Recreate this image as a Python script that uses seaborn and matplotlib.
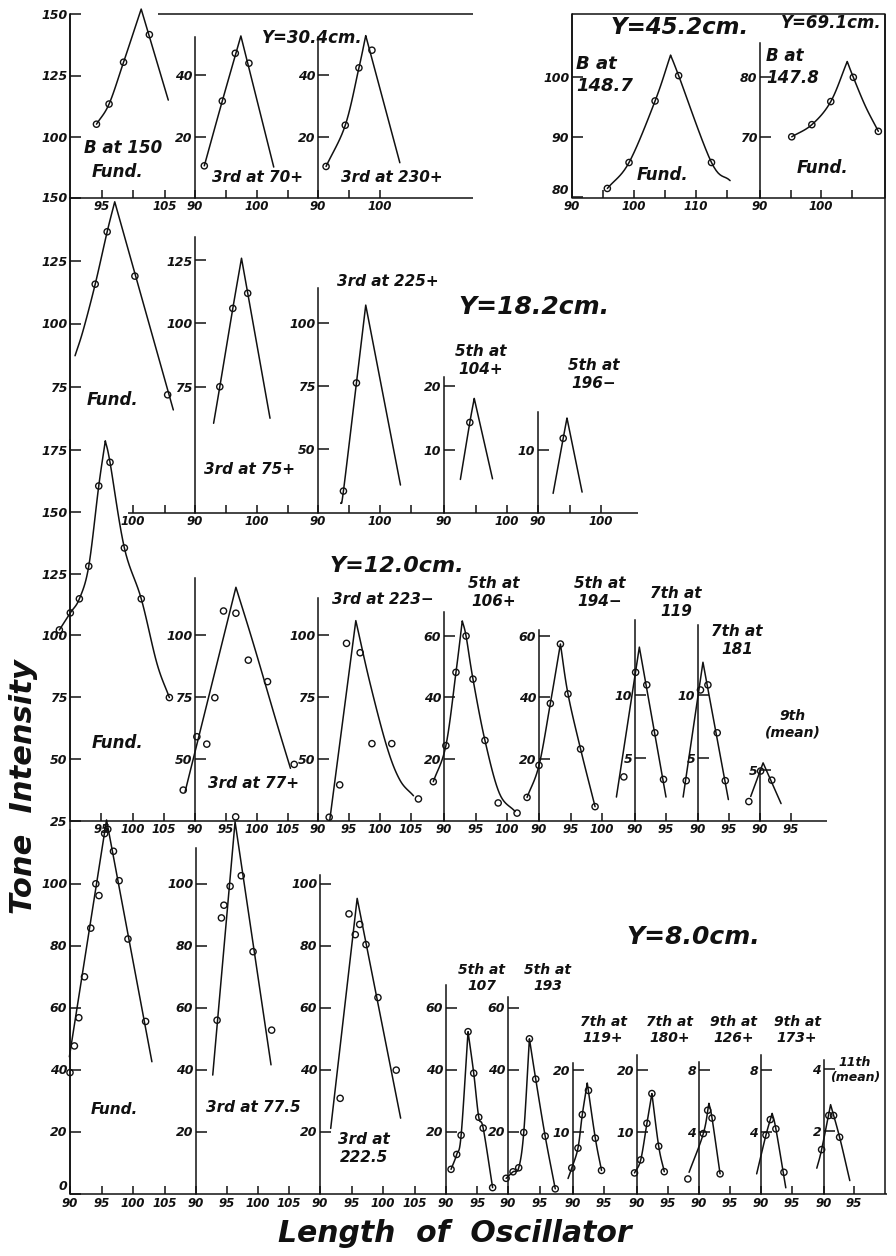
import numpy as np
import matplotlib
matplotlib.use("Agg")
import matplotlib.pyplot as plt
import seaborn as sns

# ---------------- data ----------------
# Y = 30.4 cm
r1_fund_x = [94.2, 96.2, 98.5, 102.6]
r1_fund_y = [105.2, 113.4, 130.4, 141.6]
r1_fund_cx = [94.2, 96.2, 98.5, 101.3, 105.6]
r1_fund_cy = [105.2, 113.4, 130.4, 152.0, 115.0]
r1_3a_x = [91.5, 94.4, 96.5, 98.7]
r1_3a_y = [10.7, 31.6, 47.0, 43.8]
r1_3a_cx = [91.5, 94.4, 97.4, 102.7]
r1_3a_cy = [10.7, 31.6, 52.6, 10.3]
r1_3b_x = [91.3, 94.4, 96.6, 98.7]
r1_3b_y = [10.5, 23.8, 42.3, 48.0]
r1_3b_cx = [91.3, 94.4, 96.6, 97.7, 103.2]
r1_3b_cy = [10.5, 23.8, 42.3, 52.7, 11.7]
# Y = 45.2 cm and Y = 69.1 cm
r1_b452_x = [95.7, 99.2, 103.4, 107.2, 112.5]
r1_b452_y = [81.5, 85.8, 96.0, 100.2, 85.8]
r1_b452_cx = [95.7, 99.2, 103.4, 105.9, 107.2, 112.5, 115.5]
r1_b452_cy = [81.5, 85.8, 96.0, 103.6, 100.2, 85.8, 82.8]
r1_b691_x = [95.2, 98.5, 101.6, 105.3, 109.4]
r1_b691_y = [70.1, 72.1, 75.9, 79.9, 71.0]
r1_b691_cx = [95.2, 98.5, 101.6, 104.3, 105.3, 107.3, 109.4]
r1_b691_cy = [70.1, 72.1, 75.9, 82.5, 79.9, 75.1, 71.0]
# Y = 18.2 cm
r2_fund_x = [94.0, 95.9, 100.3, 105.5]
r2_fund_y = [115.6, 136.4, 118.8, 71.7]
r2_fund_cx = [90.8, 92.1, 94.0, 95.9, 97.1, 106.4]
r2_fund_cy = [87.2, 97.4, 115.6, 136.4, 148.3, 65.7]
r2_3a_x = [94.0, 96.1, 98.5]
r2_3a_y = [74.9, 106.0, 112.0]
r2_3a_cx = [93.0, 94.0, 96.1, 97.5, 102.1]
r2_3a_cy = [60.4, 74.9, 106.0, 125.9, 62.4]
r2_3b_x = [94.1, 96.2]
r2_3b_y = [33.5, 76.4]
r2_3b_cx = [93.7, 94.1, 96.2, 97.7, 103.3]
r2_3b_cy = [28.6, 33.5, 76.4, 107.3, 35.9]
r2_5a_x = [94.1]
r2_5a_y = [14.3]
r2_5a_cx = [92.6, 94.1, 94.8, 97.7]
r2_5a_cy = [5.3, 14.3, 18.1, 5.4]
r2_5b_x = [94.0]
r2_5b_y = [11.8]
r2_5b_cx = [92.4, 94.0, 94.6, 97.0]
r2_5b_cy = [3.1, 11.8, 15.0, 3.3]
# Y = 12.0 cm
r3_fund_x = [88.3, 90.05, 91.5, 93.0, 94.6, 96.4, 98.7, 101.4, 105.9]
r3_fund_y = [102.2, 109.1, 114.8, 128.0, 160.5, 170.1, 135.4, 114.8, 74.8]
r3_fund_cx = [88.3, 90.05, 91.5, 93.0, 94.6, 95.65, 96.4, 98.7, 101.4, 103.9, 105.9]
r3_fund_cy = [102.2, 109.1, 114.8, 128.0, 160.5, 178.8, 170.1, 135.4, 114.8, 88.7, 74.8]
r3_3a_x = [88.1, 90.3, 91.9, 93.2, 94.6, 96.6, 98.6, 101.7, 106.0]
r3_3a_y = [37.4, 59.0, 56.0, 74.8, 109.9, 109.0, 90.0, 81.3, 47.8]
r3_3a_cx = [88.4, 96.6, 99.4, 103.2, 105.4]
r3_3a_cy = [36.7, 119.5, 96.8, 64.4, 46.2]
r3_3b_x = [91.8, 93.5, 94.6, 96.8, 98.7, 101.9, 106.2]
r3_3b_y = [26.4, 39.5, 96.8, 93.0, 56.2, 56.2, 33.8]
r3_3b_cx = [91.9, 96.1, 98.4, 101.1, 103.2, 105.4]
r3_3b_cy = [25.3, 106.0, 80.6, 55.0, 41.5, 35.1]
r3_5a_x = [88.3, 90.3, 91.9, 93.5, 94.6, 96.5, 98.6, 101.6]
r3_5a_y = [12.6, 24.3, 48.1, 59.9, 45.9, 26.0, 5.7, 2.4]
r3_5a_cx = [88.3, 90.3, 91.9, 92.9, 93.5, 94.6, 96.5, 98.8, 101.3]
r3_5a_cy = [12.6, 24.3, 48.1, 64.8, 59.9, 45.9, 26.0, 8.8, 2.9]
r3_5b_x = [88.1, 90.0, 91.8, 93.4, 94.6, 96.6, 98.9]
r3_5b_y = [7.5, 17.9, 38.0, 57.3, 41.1, 23.2, 4.5]
r3_5b_cx = [88.1, 90.0, 91.8, 93.4, 94.6, 96.6, 98.9]
r3_5b_cy = [7.5, 17.9, 38.0, 57.3, 41.1, 23.2, 4.5]
r3_7a_x = [88.2, 90.1, 91.9, 93.2, 94.6]
r3_7a_y = [3.5, 11.8, 10.8, 7.0, 3.3]
r3_7a_cx = [87.0, 90.7, 95.0]
r3_7a_cy = [1.9, 13.8, 1.9]
r3_7b_x = [88.1, 90.4, 91.6, 93.1, 94.4]
r3_7b_y = [3.2, 10.4, 10.8, 7.0, 3.2]
r3_7b_cx = [87.6, 90.8, 94.9]
r3_7b_cy = [1.9, 12.6, 1.7]
r3_9_x = [88.2, 90.1, 91.9]
r3_9_y = [1.9, 4.9, 4.0]
r3_9_cx = [88.5, 90.5, 93.4]
r3_9_cy = [2.4, 5.7, 1.7]
# Y = 8.0 cm
r4_fund_x = [90.0, 90.7, 91.4, 92.3, 93.3, 94.1, 94.6, 95.5, 96.0, 96.9, 97.8, 99.2, 102.0]
r4_fund_y = [39.0, 47.6, 56.7, 69.9, 85.6, 99.9, 96.1, 116.1, 117.5, 110.4, 100.9, 82.1, 55.5]
r4_fund_cx = [89.9, 95.8, 103.0]
r4_fund_cy = [44.1, 120.5, 42.5]
r4_3a_x = [93.4, 94.1, 94.5, 95.5, 96.4, 97.3, 99.2, 102.2]
r4_3a_y = [55.9, 88.9, 93.0, 99.1, 121.5, 102.5, 78.0, 52.7]
r4_3a_cx = [92.7, 96.3, 102.1]
r4_3a_cy = [38.2, 119.9, 41.5]
r4_3b_x = [93.2, 94.6, 95.6, 96.3, 97.3, 99.2, 102.1]
r4_3b_y = [30.7, 90.2, 83.5, 86.8, 80.3, 63.2, 39.8]
r4_3b_cx = [91.7, 95.9, 102.8]
r4_3b_cy = [21.0, 95.2, 24.3]
r4_5a_x = [90.8, 91.7, 92.4, 93.5, 94.4, 95.2, 95.9, 97.4]
r4_5a_y = [7.8, 12.6, 18.8, 52.2, 38.8, 24.6, 21.1, 1.9]
r4_5a_cx = [90.8, 91.7, 92.4, 93.5, 94.4, 95.2, 95.9, 97.4]
r4_5a_cy = [7.8, 12.6, 18.8, 52.2, 38.8, 24.6, 21.1, 1.9]
r4_5b_x = [89.7, 90.8, 91.7, 92.5, 93.4, 94.4, 95.9, 97.5]
r4_5b_y = [4.9, 7.0, 8.3, 19.7, 49.9, 36.9, 18.5, 1.5]
r4_5b_cx = [89.7, 90.8, 91.7, 92.5, 93.4, 94.4, 95.9, 97.5]
r4_5b_cy = [4.9, 7.0, 8.3, 19.7, 49.9, 36.9, 18.5, 1.5]
r4_7a_x = [89.8, 90.8, 91.5, 92.5, 93.6, 94.6]
r4_7a_y = [4.2, 7.4, 12.8, 16.7, 9.0, 3.8]
r4_7a_cx = [89.2, 89.8, 90.8, 91.5, 92.3, 93.6, 94.6]
r4_7a_cy = [2.5, 4.2, 7.4, 12.8, 17.9, 9.0, 3.8]
r4_7b_x = [89.6, 90.6, 91.6, 92.4, 93.5, 94.4]
r4_7b_y = [3.4, 5.5, 11.4, 16.2, 7.7, 3.6]
r4_7b_cx = [89.6, 90.6, 91.6, 92.4, 93.5, 94.4]
r4_7b_cy = [3.4, 5.5, 11.4, 16.2, 7.7, 3.6]
r4_9a_x = [88.2, 90.7, 91.4, 92.1, 93.4]
r4_9a_y = [0.97, 3.9, 5.4, 4.9, 1.3]
r4_9a_cx = [88.4, 90.7, 91.6, 92.1, 93.4]
r4_9a_cy = [1.4, 3.9, 5.85, 4.9, 1.3]
r4_9b_x = [90.8, 91.5, 92.4, 93.7]
r4_9b_y = [3.8, 4.8, 4.2, 1.4]
r4_9b_cx = [89.3, 90.8, 91.8, 92.4, 94.0]
r4_9b_cy = [1.3, 3.8, 5.2, 4.2, 0.4]
r4_11_x = [89.6, 90.8, 91.6, 92.6]
r4_11_y = [1.4, 2.5, 2.5, 1.8]
r4_11_cx = [88.8, 89.6, 91.1, 92.6, 94.3]
r4_11_cy = [0.8, 1.4, 2.85, 1.8, 0.4]

# ---------------- layout ----------------
W, H = 896, 1256
R1B, R2B, R3B, R4B = 197.5, 512.5, 820.5, 1194

sns.set_theme(style="white")
plt.rcParams["font.family"] = ["DejaVu Sans"]
fig = plt.figure(figsize=(W / 100, H / 100), dpi=100)
fig.patch.set_facecolor("white")

ov = fig.add_axes([0, 0, 1, 1])
ov.set_xlim(0, W)
ov.set_ylim(H, 0)
ov.axis("off")

INK = "#111111"
LW = 1.1
TXT = dict(color=INK, fontweight="bold", fontstyle="italic", ha="center", va="center")


def smooth(xs, ys, n=10):
    xs = np.asarray(xs, float)
    ys = np.asarray(ys, float)
    k = int(np.argmax(ys))
    out = []
    for a, b in ((0, k), (k, len(xs) - 1)):
        P = np.column_stack([xs[a:b + 1], ys[a:b + 1]])
        if len(P) < 3:
            seg = P
        else:
            Q = np.vstack([2 * P[0] - P[1], P, 2 * P[-1] - P[-2]])
            t = np.linspace(0, 1, n, endpoint=False)[:, None]
            pieces = []
            for i in range(1, len(Q) - 2):
                p0, p1, p2, p3 = Q[i - 1], Q[i], Q[i + 1], Q[i + 2]
                pieces.append(0.5 * (2 * p1 + (-p0 + p2) * t
                                     + (2 * p0 - 5 * p1 + 4 * p2 - p3) * t ** 2
                                     + (-p0 + 3 * p1 - 3 * p2 + p3) * t ** 3))
            pieces.append(P[-1:])
            seg = np.vstack(pieces)
        out.append(seg)
    allp = np.vstack(out)
    return allp[:, 0], allp[:, 1]


def panel(l, r, t, b, pxu, yval, ypx, pyu, px, py, cx, cy, yticks, xticks, xlabels):
    ax = fig.add_axes([l / W, 1 - b / H, (r - l) / W, (b - t) / H])
    ax.set_facecolor("none")
    y0 = yval - (b - ypx) / pyu
    ax.set_xlim(90, 90 + (r - l) / pxu)
    ax.set_ylim(y0, y0 + (b - t) / pyu)
    sx, sy = smooth(cx, cy)
    sns.lineplot(x=sx, y=sy, sort=False, estimator=None, ax=ax, color=INK,
                 lw=LW, clip_on=False)
    sns.scatterplot(x=px, y=py, ax=ax, marker="o", s=20, facecolor="none",
                    edgecolor=INK, linewidth=1.0, clip_on=False, zorder=3)
    for s in ("top", "right", "bottom"):
        ax.spines[s].set_visible(False)
    ax.spines["left"].set_linewidth(LW)
    ax.spines["left"].set_color(INK)
    ax.set_yticks(yticks)
    ax.set_yticklabels([str(v) for v in yticks])
    ax.set_xticks(xticks)
    ax.set_xticklabels(xlabels)
    ax.tick_params(axis="y", direction="in", length=8, width=LW, color=INK, pad=2,
                   labelsize=9, left=True)
    ax.tick_params(axis="x", direction="in", length=6, width=LW, color=INK, pad=2,
                   labelsize=8.5, bottom=True)
    for lab in ax.get_xticklabels() + ax.get_yticklabels():
        lab.set_fontweight("bold")
        lab.set_fontstyle("italic")
        lab.set_color(INK)
    # a y label sitting on the baseline next to an x label "90": lift it
    if xlabels and xlabels[0] == "90":
        for v, lab in zip(yticks, ax.get_yticklabels()):
            if abs(v - y0) * pyu < 3:
                lab.set_verticalalignment("bottom")
    ax.set_xlabel("")
    ax.set_ylabel("")
    return ax


L90_100 = ["90", "", "100", ""]
ALL4 = ["90", "95", "100", "105"]

# Row Y = 30.4 / 45.2 / 69.1
panel(70, 195, 14, R1B, 6.3, 150, 14, 2.46, r1_fund_x, r1_fund_y, r1_fund_cx, r1_fund_cy,
      [100, 125, 150], [95, 100, 105], ["95", "", "105"])
panel(195, 318, 37, R1B, 6.2, 0, 199, 3.1, r1_3a_x, r1_3a_y, r1_3a_cx, r1_3a_cy,
      [20, 40], [90, 95, 100, 105], L90_100)
panel(318, 472, 37, R1B, 6.2, 0, 199, 3.1, r1_3b_x, r1_3b_y, r1_3b_cx, r1_3b_cy,
      [20, 40], [90, 95, 100], ["90", "", "100"])
panel(572, 760, 14, R1B, 6.2, 80, 198, 6.05, r1_b452_x, r1_b452_y, r1_b452_cx, r1_b452_cy,
      [80, 90, 100], [90, 95, 100, 105, 110, 115], ["90", "", "100", "", "110", ""])
panel(760, 885, 43, R1B, 6.1, 80, 76.7, 6.07, r1_b691_x, r1_b691_y, r1_b691_cx, r1_b691_cy,
      [70, 80], [90, 95, 100, 105], L90_100)

# Row Y = 18.2
panel(70, 195, 197.5, R2B, 6.3, 150, 197.5, 2.52, r2_fund_x, r2_fund_y, r2_fund_cx, r2_fund_cy,
      [75, 100, 125, 150], [100, 105], ["100", ""])
panel(195, 318, 237, R2B, 6.2, 150, 197.5, 2.52, r2_3a_x, r2_3a_y, r2_3a_cx, r2_3a_cy,
      [75, 100, 125], [90, 95, 100, 105], L90_100)
panel(318, 444, 288, R2B, 6.2, 150, 197.5, 2.52, r2_3b_x, r2_3b_y, r2_3b_cx, r2_3b_cy,
      [50, 75, 100], [90, 95, 100, 105], L90_100)
panel(444, 538, 377, R2B, 6.3, 0, 513, 6.33, r2_5a_x, r2_5a_y, r2_5a_cx, r2_5a_cy,
      [10, 20], [90, 95, 100], ["90", "", "100"])
panel(538, 638, 412, R2B, 6.3, 0, 513, 6.33, r2_5b_x, r2_5b_y, r2_5b_cx, r2_5b_cy,
      [10], [90, 95, 100], ["90", "", "100"])

# Row Y = 12.0
panel(70, 195, 440, R3B, 6.25, 25, 820.7, 2.47, r3_fund_x, r3_fund_y, r3_fund_cx, r3_fund_cy,
      [25, 50, 75, 100, 125, 150, 175], [95, 100, 105], ["95", "100", "105"])
panel(195, 318, 578, R3B, 6.2, 25, 820.7, 2.47, r3_3a_x, r3_3a_y, r3_3a_cx, r3_3a_cy,
      [50, 75, 100], [90, 95, 100, 105], ALL4)
panel(318, 444, 598, R3B, 6.2, 25, 820.7, 2.47, r3_3b_x, r3_3b_y, r3_3b_cx, r3_3b_cy,
      [50, 75, 100], [90, 95, 100, 105], ALL4)
panel(444, 539, 612, R3B, 6.3, 0, 820.5, 3.08, r3_5a_x, r3_5a_y, r3_5a_cx, r3_5a_cy,
      [20, 40, 60], [90, 95, 100], ["90", "95", "100"])
panel(539, 635, 630, R3B, 6.3, 0, 820.5, 3.08, r3_5b_x, r3_5b_y, r3_5b_cx, r3_5b_cy,
      [20, 40, 60], [90, 95, 100], ["90", "95", "100"])
panel(635, 698, 620, R3B, 6.2, 0, 821, 12.6, r3_7a_x, r3_7a_y, r3_7a_cx, r3_7a_cy,
      [5, 10], [90, 95], ["90", "95"])
panel(698, 760, 625, R3B, 6.2, 0, 821, 12.6, r3_7b_x, r3_7b_y, r3_7b_cx, r3_7b_cy,
      [5, 10], [90, 95], ["90", "95"])
panel(760, 827, 770, R3B, 6.2, 0, 821, 12.6, r3_9_x, r3_9_y, r3_9_cx, r3_9_cy,
      [5], [90, 95], ["90", "95"])

# Row Y = 8.0
panel(70, 196, 830, R4B, 6.3, 0, 1193.5, 3.1, r4_fund_x, r4_fund_y, r4_fund_cx, r4_fund_cy,
      [0, 20, 40, 60, 80, 100], [90, 95, 100, 105], ALL4)
panel(196, 320, 848, R4B, 6.2, 0, 1193.5, 3.1, r4_3a_x, r4_3a_y, r4_3a_cx, r4_3a_cy,
      [20, 40, 60, 80, 100], [90, 95, 100, 105], ALL4)
panel(320, 446, 875, R4B, 6.3, 0, 1193.5, 3.1, r4_3b_x, r4_3b_y, r4_3b_cx, r4_3b_cy,
      [20, 40, 60, 80, 100], [90, 95, 100, 105], ALL4)
panel(446, 508, 985, R4B, 6.3, 0, 1193.5, 3.1, r4_5a_x, r4_5a_y, r4_5a_cx, r4_5a_cy,
      [20, 40, 60], [90, 95], ["90", "95"])
panel(508, 573, 997, R4B, 6.3, 0, 1193.5, 3.1, r4_5b_x, r4_5b_y, r4_5b_cx, r4_5b_cy,
      [20, 40, 60], [90, 95], ["90", "95"])
panel(573, 637, 1063, R4B, 6.2, 0, 1194, 6.2, r4_7a_x, r4_7a_y, r4_7a_cx, r4_7a_cy,
      [10, 20], [90, 95], ["90", "95"])
panel(637, 699, 1055, R4B, 6.2, 0, 1194, 6.2, r4_7b_x, r4_7b_y, r4_7b_cx, r4_7b_cy,
      [10, 20], [90, 95], ["90", "95"])
panel(699, 761, 1062, R4B, 6.2, 0, 1194, 15.5, r4_9a_x, r4_9a_y, r4_9a_cx, r4_9a_cy,
      [4, 8], [90, 95], ["90", "95"])
panel(761, 824, 1055, R4B, 6.2, 0, 1194, 15.5, r4_9b_x, r4_9b_y, r4_9b_cx, r4_9b_cy,
      [4, 8], [90, 95], ["90", "95"])
panel(824, 887, 1060, R4B, 6.0, 0, 1193, 31, r4_11_x, r4_11_y, r4_11_cx, r4_11_cy,
      [2, 4], [90, 95], ["90", "95"])

# ---------------- frame lines ----------------
fr = dict(color=INK, lw=LW, solid_capstyle="butt")
ov.plot([158, 473], [14, 14], **fr)
ov.plot([70, 473], [R1B, R1B], **fr)
ov.plot([572, 885, 885, 572, 572], [14, 14, R1B, R1B, 14], **fr)
ov.plot([128, 638], [R2B, R2B], **fr)
ov.plot([70, 827], [R3B, R3B], **fr)
ov.plot([70, 887], [R4B, R4B], **fr)
ov.plot([885, 885], [14, R4B], **fr)
ov.plot([70, 70], [14, R4B], **fr)

# ---------------- annotations ----------------
def note(x, y, s, size=11, **kw):
    d = dict(TXT)
    d.update(kw)
    ov.text(x, y, s, fontsize=size, linespacing=1.25, **d)

note(312, 38, "Y=30.4cm.", 12)
note(123, 148, "B at 150", 12)
note(118, 172, "Fund.", 12)
note(257, 178, "3rd at 70+", 11)
note(392, 178, "3rd at 230+", 11)
note(680, 27, "Y=45.2cm.", 16.5)
note(831, 23, "Y=69.1cm.", 12)
note(576, 75, "B at\n148.7", 13, ha="left")
note(663, 175, "Fund.", 12)
note(766, 67, "B at\n147.8", 12, ha="left")
note(823, 168, "Fund.", 12)

note(534, 307, "Y=18.2cm.", 18)
note(113, 400, "Fund.", 12)
note(250, 470, "3rd at 75+", 11)
note(388, 282, "3rd at 225+", 11)
note(481, 361, "5th at\n104+", 11)
note(594, 375, "5th at\n196\u2212", 11)

note(397, 566, "Y=12.0cm.", 16)
note(118, 743, "Fund.", 12)
note(254, 783, "3rd at 77+", 11)
note(383, 600, "3rd at 223\u2212", 11)
note(494, 593, "5th at\n106+", 11)
note(600, 593, "5th at\n194\u2212", 11)
note(676, 603, "7th at\n119", 11)
note(737, 640, "7th at\n181", 11)
note(793, 724, "9th\n(mean)", 10)

note(693, 937, "Y=8.0cm.", 18)
note(114, 1110, "Fund.", 11)
note(253, 1107, "3rd at 77.5", 11)
note(364, 1149, "3rd at\n222.5", 11)
note(482, 978, "5th at\n107", 10)
note(548, 978, "5th at\n193", 10)
note(603, 1030, "7th at\n119+", 10)
note(670, 1030, "7th at\n180+", 10)
note(734, 1030, "9th at\n126+", 10)
note(797, 1030, "9th at\n173+", 10)
note(855, 1070, "11th\n(mean)", 9)

note(24, 787, "Tone  Intensity", 22, rotation=90)
note(455, 1233, "Length  of  Oscillator", 21.5)

fig.savefig("out.png", dpi=100, facecolor="white")
